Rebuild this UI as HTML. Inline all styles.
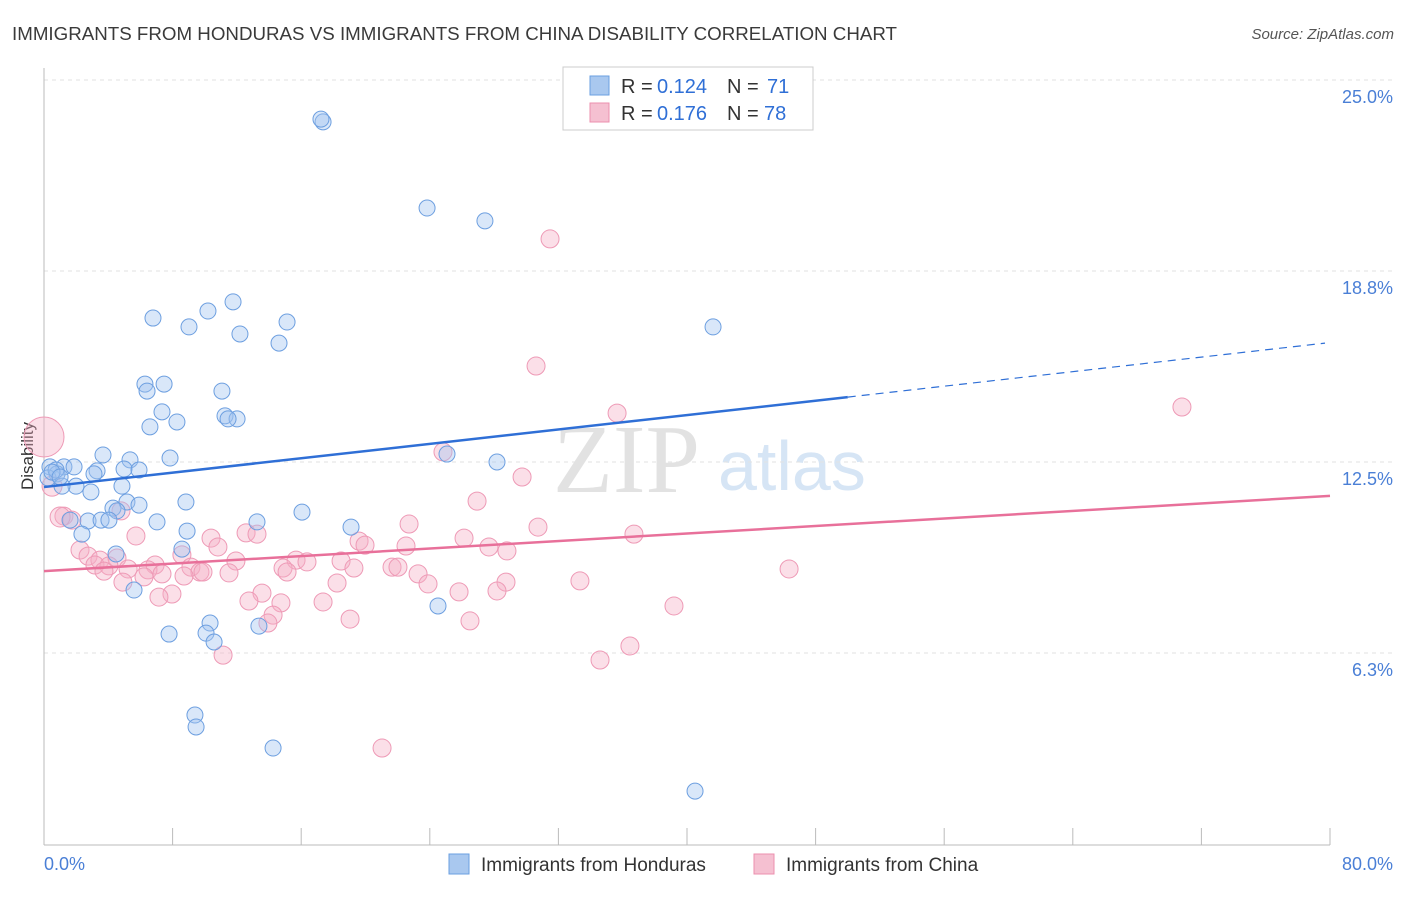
<!DOCTYPE html>
<html><head><meta charset="utf-8"><style>
body{margin:0;background:#fff;font-family:"Liberation Sans",sans-serif;}
svg text{font-family:"Liberation Sans",sans-serif;}
</style></head><body>
<svg id="chart" width="1406" height="892">
<text x="12" y="40" font-size="18" fill="#3a3a3a" textLength="885" lengthAdjust="spacingAndGlyphs">IMMIGRANTS FROM HONDURAS VS IMMIGRANTS FROM CHINA DISABILITY CORRELATION CHART</text>
<text x="1394" y="39" font-size="15" fill="#555" font-style="italic" text-anchor="end">Source: ZipAtlas.com</text>
<text x="33" y="456" font-size="17" fill="#333" text-anchor="middle" transform="rotate(-90 33 456)">Disability</text>
<text x="553" y="492" font-size="98" fill="#e2e2e2" font-family="Liberation Serif" style="font-family:'Liberation Serif',serif">ZIP</text>
<text x="718" y="490" font-size="70" fill="#d6e5f5">atlas</text>
<g id="grid"></g><g id="ticks"></g><g id="pts"></g><g id="lines"></g>
<g>
<rect x="563" y="67" width="250" height="63" fill="#fff" stroke="#ccc"/>
<rect x="590" y="76" width="19" height="19" fill="#a9c8ef" stroke="#6a9fe0"/>
<text x="621" y="93" font-size="20" fill="#333">R =</text>
<text x="657" y="93" font-size="20" fill="#2f6fd6">0.124</text>
<text x="727" y="93" font-size="20" fill="#333">N =</text>
<text x="767" y="93" font-size="20" fill="#2f6fd6">71</text>
<rect x="590" y="103" width="19" height="19" fill="#f5c0d1" stroke="#ec8fae"/>
<text x="621" y="120" font-size="20" fill="#333">R =</text>
<text x="657" y="120" font-size="20" fill="#2f6fd6">0.176</text>
<text x="727" y="120" font-size="20" fill="#333">N =</text>
<text x="764" y="120" font-size="20" fill="#2f6fd6">78</text>
</g>
<g>
<rect x="449" y="854" width="20" height="20" fill="#a9c8ef" stroke="#6a9fe0"/>
<text x="481" y="871" font-size="19" fill="#333">Immigrants from Honduras</text>
<rect x="754" y="854" width="20" height="20" fill="#f5c0d1" stroke="#ec8fae"/>
<text x="786" y="871" font-size="19" fill="#333">Immigrants from China</text>
</g>
</svg>
<script>
const yTicks=[25,18.75,12.5,6.25];
const yTickLabels=["25.0%","18.8%","12.5%","6.3%"];
const xEnds=["0.0%","80.0%"];
const blueX=[17.36,17.23,23.83,27.43,41.62,6.78,9.02,10.20,11.76,12.19,15.12,14.62,6.28,7.47,6.41,11.07,7.34,11.26,12.01,11.45,6.59,8.27,25.07,28.18,3.67,5.35,7.84,0.37,1.24,1.87,3.30,4.98,5.91,3.11,0.81,0.25,1.99,1.12,4.85,2.92,5.16,5.91,8.83,4.29,4.54,16.05,1.62,2.74,3.55,4.04,7.03,13.25,19.10,2.36,8.90,4.48,8.58,5.60,24.51,10.33,7.78,10.08,10.58,13.37,9.39,9.46,14.25,40.50,0.75,0.50,1.00];
const blueY=[23.63,23.72,20.81,20.39,16.92,17.21,16.92,17.44,17.74,16.69,17.08,16.39,15.05,15.05,14.82,14.82,14.14,14.01,13.91,13.91,13.65,13.81,12.76,12.50,12.73,12.57,12.63,12.34,12.34,12.34,12.21,12.27,12.24,12.11,12.11,11.98,11.71,11.71,11.71,11.52,11.19,11.09,11.19,10.99,10.90,10.86,10.60,10.57,10.60,10.60,10.54,10.54,10.37,10.14,10.24,9.49,9.65,8.31,7.79,7.23,6.87,6.90,6.61,7.13,4.22,3.83,3.14,1.73,12.24,12.17,12.01];
const pinkX=[31.48,30.61,35.65,70.79,24.82,29.74,26.94,1.24,1.74,4.79,22.71,30.73,36.70,5.72,12.57,13.25,10.39,19.60,10.82,19.97,26.13,22.52,27.68,28.80,2.24,2.74,3.48,4.54,8.58,11.94,15.68,16.36,18.48,3.17,6.91,4.04,5.23,6.47,9.14,14.87,19.28,21.65,22.02,23.27,15.12,9.70,3.73,11.51,8.71,9.89,7.34,6.22,4.91,18.23,23.89,28.74,33.34,46.35,28.18,13.56,7.96,7.15,12.75,14.74,17.36,25.82,39.19,14.25,19.04,13.93,26.50,36.45,34.59,11.14,21.03,0.0,0.50,1.00];
const pinkY=[19.80,15.64,14.10,14.30,12.83,12.01,11.22,10.73,10.60,10.90,10.47,10.37,10.14,10.08,10.18,10.14,10.01,9.91,9.72,9.78,10.01,9.75,9.72,9.59,9.62,9.42,9.29,9.36,9.46,9.26,9.29,9.23,9.26,9.13,9.13,9.10,9.00,8.97,9.06,9.03,9.03,9.06,9.06,8.84,8.90,8.90,8.93,8.87,8.77,8.90,8.84,8.74,8.57,8.54,8.51,8.57,8.61,9.00,8.28,8.21,8.18,8.08,7.95,7.89,7.92,8.25,7.79,7.49,7.36,7.23,7.30,6.48,6.02,6.18,3.14,13.32,11.71,10.70];
const pinkR=pinkX.map((v,i)=>i===75?20:(i>75?10:9));
const blueTrend=[11.68,16.39];
const blueSolidEnd=50;
const pinkTrend=[8.93,11.39];
const NS="http://www.w3.org/2000/svg";
const X=v=>44+v*16.075, Y=v=>844-v*30.56;
function mk(t,a,p){const e=document.createElementNS(NS,t);for(const k in a)e.setAttribute(k,a[k]);p.appendChild(e);return e;}
const grid=document.getElementById('grid'),ticks=document.getElementById('ticks'),pts=document.getElementById('pts'),lines=document.getElementById('lines');
yTicks.forEach((t,i)=>{
 const l=mk('line',{x1:44,x2:1394,y1:Y(t),y2:Y(t),stroke:'#e2e2e2','stroke-dasharray':'4 4'},grid);
 
 
 const tx=mk('text',{x:1393,y:Y(t)+23,'font-size':18,fill:'#4a7fd6','text-anchor':'end'},ticks);
 tx.textContent=yTickLabels[i];
 
 
});
mk('line',{x1:44,x2:44,y1:68,y2:845,stroke:'#bbb'},ticks);
mk('line',{x1:44,x2:1330,y1:845,y2:845,stroke:'#bbb'},ticks);
for(let v=0;v<=80;v+=8){const t=mk('line',{x1:X(v),x2:X(v),y1:828,y2:845,stroke:'#bbb'},ticks);
 
 }
const xl0=mk('text',{x:44,y:870,'font-size':18,fill:'#4a7fd6'},ticks);xl0.textContent=xEnds[0];


const xl1=mk('text',{x:1393,y:870,'font-size':18,fill:'#4a7fd6','text-anchor':'end'},ticks);xl1.textContent=xEnds[1];


pinkX.forEach((v,i)=>{const c=mk('circle',{cx:X(v),cy:Y(pinkY[i]),r:pinkR[i],fill:'rgba(245,175,198,0.4)',stroke:'#ee9ab6','stroke-width':1},pts);
 
 });
blueX.forEach((v,i)=>{const c=mk('circle',{cx:X(v),cy:Y(blueY[i]),r:8,fill:'rgba(160,195,240,0.4)',stroke:'#6d9fe0','stroke-width':1},pts);
 
 });
const by=v=>blueTrend[0]+(blueTrend[1]-blueTrend[0])*v/80;
const b1=mk('line',{x1:X(0),y1:Y(by(0)),x2:X(blueSolidEnd),y2:Y(by(blueSolidEnd)),stroke:'#2f6fd6','stroke-width':2.5},lines);


const b2=mk('line',{x1:X(blueSolidEnd),y1:Y(by(blueSolidEnd)),x2:X(80)-5,y2:Y(by(80)),stroke:'#2f6fd6','stroke-width':1.2,'stroke-dasharray':'8 6'},lines);


const p1=mk('line',{x1:X(0),y1:Y(pinkTrend[0]),x2:X(80),y2:Y(pinkTrend[1]),stroke:'#e8709a','stroke-width':2.5},lines);


</script>
</body></html>
